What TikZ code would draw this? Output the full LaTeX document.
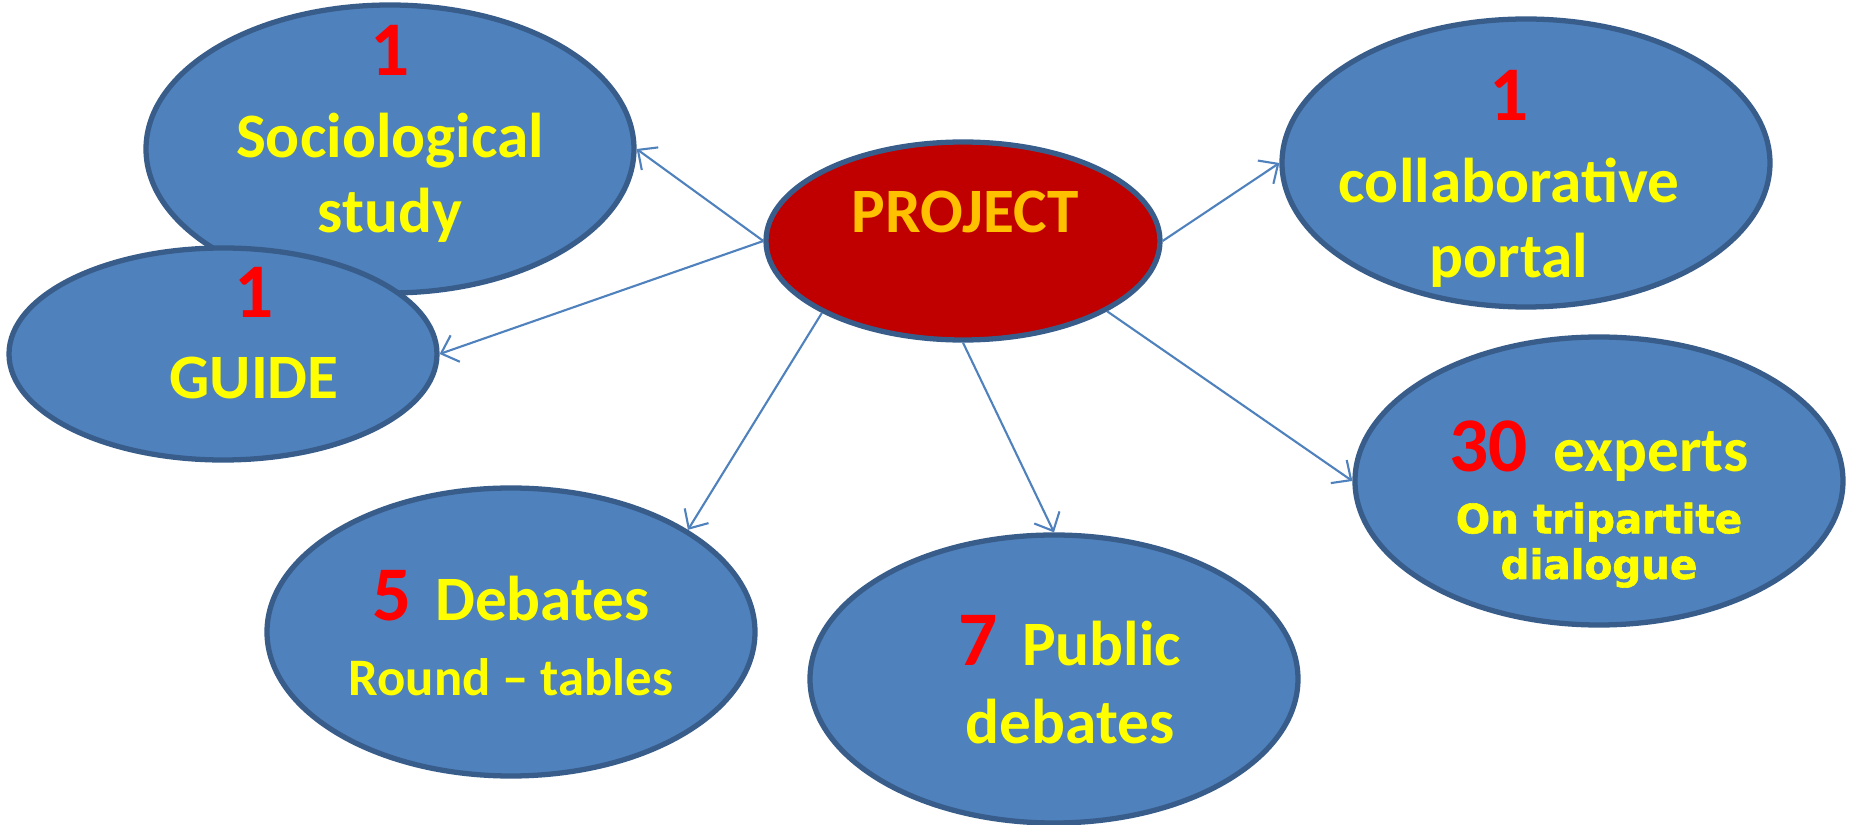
\documentclass[tikz,border=0pt]{standalone}
\usepackage{fontspec}
\setmainfont{Carlito}
\newfontfamily\heavyfont[FakeBold=1.5]{DejaVu Sans Bold}
\usepackage{tikz}
\usetikzlibrary{arrows.meta,shapes,positioning}

\definecolor{bubbleblue}{HTML}{4F81BD}
\definecolor{bubbleedge}{HTML}{385D8A}
\definecolor{projred}{HTML}{C00000}
\definecolor{projgold}{HTML}{FFC000}
\definecolor{numred}{HTML}{FF0000}
\definecolor{textyellow}{HTML}{FFFF00}
\newcommand{\bignum}[1]{{\color{numred}\fontsize{22}{22}\selectfont #1}}

\begin{document}
\begin{tikzpicture}[
        x=0.1mm, y=-0.1mm,
        bubble/.style={ellipse, draw=bubbleedge, line width=1.5pt, fill=bubbleblue, inner sep=0pt, minimum width=48.8mm, minimum height=28.8mm},
        caption/.style={text=textyellow, align=center, inner sep=0pt, anchor=north, font=\bfseries\fontsize{18}{21.3}\selectfont},
        link/.style={draw=bubbleblue, line width=0.6pt, -{Straight Barb[length=1.5mm,width=2.8mm]}}
    ]
    \useasboundingbox (0,0) rectangle (1850,825);

    % Nodes
    \node[bubble] (socio) at (390,149) {};
    \node[caption] (socio-txt) at (390,25) {\bignum{1}\\[2pt] Sociological\\ study};

    \node[bubble, minimum width=42.8mm, minimum height=21.2mm] (guide) at (223,354) {};
    \node[caption] (guide-txt) at (254,267) {\bignum{1}\\[1.7pt] GUIDE};

    \node[bubble, fill=projred, minimum width=39.4mm, minimum height=19.8mm] (project) at (963,241) {};
    \node[caption, anchor=base, text=projgold] (project-txt) at (965,233) {PROJECT};

    \node[bubble] (collab) at (1526,163) {};
    \node[caption] (collab-txt) at (1509,70) {\bignum{1}\\[2pt] collaborative\\ portal};

    \node[bubble] (experts) at (1599,481) {};
    \node[caption, font=\heavyfont\fontsize{11.5}{13}\selectfont] (experts-txt) at (1599,420)
        {{\normalfont\bfseries\fontsize{18}{18}\selectfont\bignum{30}\hspace{2.6mm}experts}\\[4.6pt]
         On tripartite\\ dialogue};

    \node[bubble] (debates) at (511,632) {};
    \node[caption] (debates-txt) at (511,570)
        {\bignum{5}\hspace{2.4mm}Debates\\ {\fontsize{15}{15}\selectfont Round – tables}};

    \node[bubble] (public) at (1054,679) {};
    \node[caption] (public-txt) at (1070,615) {\bignum{7}\hspace{2.4mm}Public\\[0.8pt] debates};

    % Edges
    \draw[link] (project.west) -- (socio.east);
    \draw[link] (project.west) -- (guide.east);
    \draw[link] (project.207) -- (debates.30);
    \draw[link] (project.south) -- (public.north);
    \draw[link] (project.east) -- (collab.west);
    \draw[link] (project.334) -- (experts.west);

\end{tikzpicture}
\end{document}
